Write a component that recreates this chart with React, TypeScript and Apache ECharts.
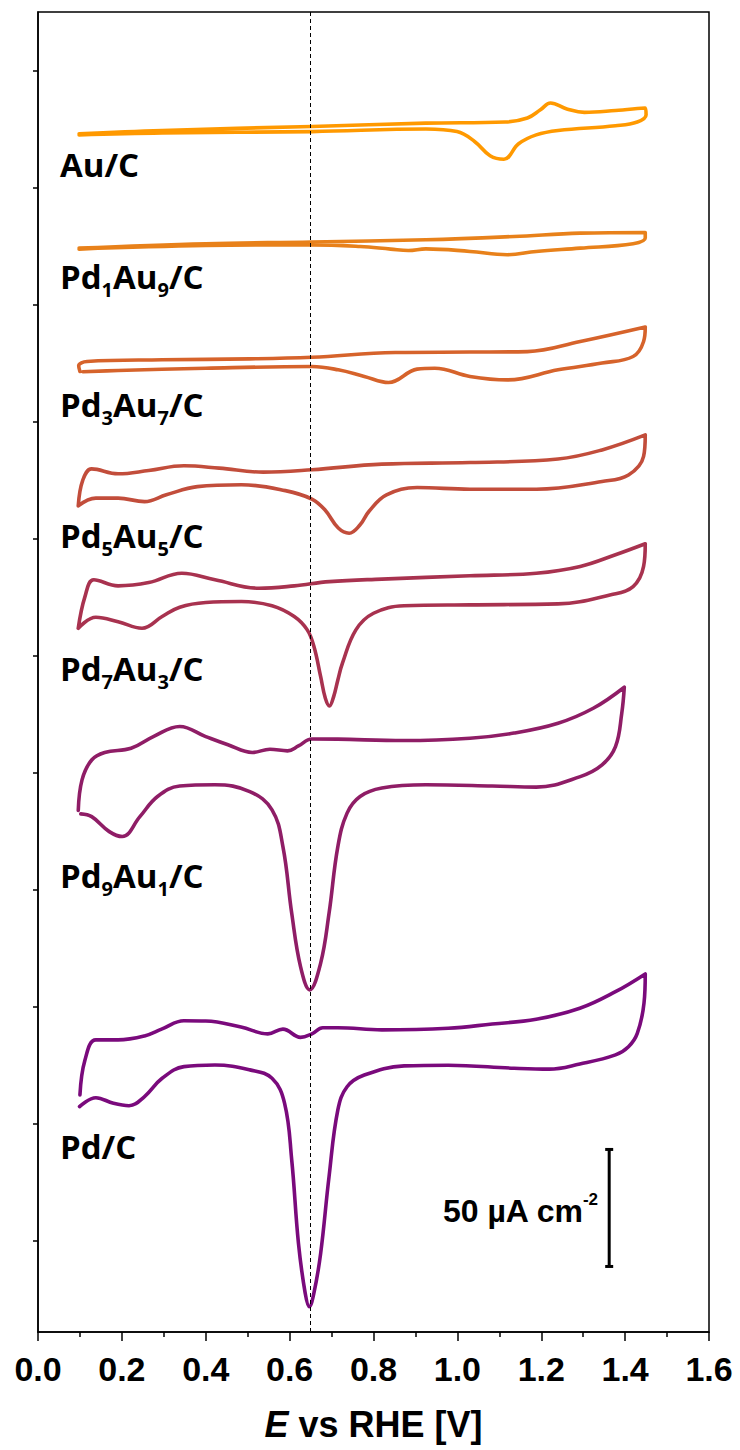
import React, { useEffect, useRef } from "react";
import * as echarts from "echarts";

// Potential (V vs RHE) and offset current density (µA cm^-2, stacked with vertical offsets)
const pdC: [number, number][] = [
  [0.100, 101.3], [0.112, 116.2], [0.138, 124.8], [0.191, 124.8], [0.254, 126.5], [0.296, 129.5],
  [0.348, 133.0], [0.400, 132.9], [0.484, 130.3], [0.548, 127.4], [0.584, 129.4], [0.626, 125.9],
  [0.653, 127.4], [0.679, 130.0], [0.715, 130.0], [0.820, 129.1], [0.978, 129.8], [1.083, 131.6],
  [1.188, 133.6], [1.292, 138.3], [1.377, 145.4], [1.448, 153.0],
  [1.445, 140.5], [1.429, 127.6], [1.408, 121.9], [1.377, 118.4], [1.292, 114.5], [1.219, 112.3],
  [1.135, 112.7], [0.978, 114.0], [0.873, 113.7], [0.778, 109.8], [0.737, 104.8], [0.715, 94.9],
  [0.694, 66.4], [0.674, 33.6], [0.658, 16.7], [0.647, 10.8], [0.637, 16.7], [0.621, 38.0],
  [0.605, 73.5], [0.588, 97.7], [0.558, 108.4], [0.505, 112.0], [0.422, 114.1], [0.348, 113.4],
  [0.296, 108.4], [0.254, 100.6], [0.217, 96.7], [0.180, 97.7], [0.138, 100.1], [0.099, 96.3],
];

const pd9Au1: [number, number][] = [
  [0.096, 222.8], [0.105, 235.9], [0.128, 244.4], [0.159, 247.6], [0.222, 249.4], [0.275, 254.4],
  [0.338, 258.7], [0.400, 254.4], [0.453, 250.9], [0.511, 247.6], [0.553, 249.0], [0.595, 248.3],
  [0.621, 250.4], [0.653, 253.4], [0.715, 253.3], [0.873, 252.7], [1.030, 253.7], [1.135, 255.9],
  [1.240, 260.1], [1.324, 266.5], [1.398, 275.5],
  [1.392, 264.4], [1.377, 250.1], [1.345, 242.3], [1.293, 237.3], [1.188, 232.8], [1.083, 233.3],
  [0.925, 233.8], [0.820, 232.4], [0.768, 228.8], [0.737, 221.7], [0.715, 207.4], [0.694, 178.9],
  [0.674, 157.6], [0.648, 146.2], [0.626, 156.1], [0.605, 178.9], [0.584, 207.4], [0.558, 223.1],
  [0.505, 230.9], [0.422, 233.8], [0.338, 233.3], [0.285, 228.8], [0.243, 220.2], [0.201, 211.7],
  [0.170, 213.8], [0.128, 220.2], [0.102, 221.4],
];

const pd7Au3: [number, number][] = [
  [0.096, 300.7], [0.112, 314.2], [0.133, 321.4], [0.191, 318.8], [0.264, 320.2], [0.343, 324.2],
  [0.422, 321.4], [0.527, 317.8], [0.611, 318.8], [0.695, 320.6], [0.820, 321.7], [1.030, 323.1],
  [1.188, 324.2], [1.293, 327.1], [1.377, 332.1], [1.448, 336.8],
  [1.444, 327.1], [1.419, 318.5], [1.366, 315.0], [1.240, 311.1], [1.030, 310.7], [0.873, 310.3],
  [0.800, 307.1], [0.758, 300.0], [0.726, 285.8], [0.715, 278.6], [0.705, 271.5], [0.695, 267.5],
  [0.685, 270.9], [0.674, 280.0], [0.658, 292.9], [0.642, 300.0], [0.611, 305.7], [0.558, 310.3],
  [0.485, 312.1], [0.400, 311.7], [0.338, 309.7], [0.296, 305.7], [0.248, 300.7], [0.191, 303.5],
  [0.138, 305.4], [0.096, 300.7],
];

const pd5Au5: [number, number][] = [
  [0.096, 353.0], [0.107, 364.1], [0.128, 368.8], [0.191, 366.7], [0.264, 368.1], [0.348, 370.1],
  [0.432, 369.1], [0.537, 367.4], [0.653, 368.4], [0.820, 370.8], [1.030, 371.5], [1.240, 373.0],
  [1.345, 376.9], [1.448, 383.3],
  [1.444, 374.1], [1.408, 366.2], [1.345, 363.4], [1.188, 360.1], [1.030, 360.1], [0.904, 360.8],
  [0.831, 357.7], [0.789, 350.6], [0.768, 344.9], [0.742, 341.3], [0.716, 343.5], [0.684, 351.3],
  [0.653, 355.9], [0.590, 359.5], [0.485, 362.0], [0.380, 361.2], [0.306, 357.7], [0.254, 354.8],
  [0.191, 356.3], [0.138, 356.3], [0.096, 353.0],
];

const pd3Au7: [number, number][] = [
  [0.100, 410.4], [0.097, 412.8], [0.117, 414.7], [0.296, 415.4], [0.505, 415.8], [0.653, 416.5],
  [0.852, 418.5], [1.030, 418.7], [1.167, 418.9], [1.293, 423.2], [1.448, 429.4],
  [1.444, 423.2], [1.419, 416.8], [1.345, 414.0], [1.240, 411.1], [1.119, 406.8], [1.030, 408.3],
  [0.946, 411.8], [0.904, 411.4], [0.836, 405.7], [0.778, 408.3], [0.716, 411.1], [0.653, 412.5],
  [0.400, 411.8], [0.191, 410.8], [0.107, 410.3],
];

const pd1Au9: [number, number][] = [
  [0.098, 463.1], [0.400, 465.0], [0.653, 465.7], [0.925, 466.7], [1.135, 468.1], [1.293, 469.5],
  [1.448, 469.8],
  [1.448, 467.4], [1.419, 465.0], [1.293, 463.1], [1.188, 461.7], [1.119, 460.3], [1.030, 461.7],
  [0.925, 462.8], [0.883, 462.1], [0.841, 462.7], [0.768, 463.8], [0.653, 464.5], [0.400, 464.2],
  [0.098, 462.7],
];

const auC: [number, number][] = [
  [0.098, 512.0], [0.296, 513.4], [0.653, 515.1], [0.925, 516.5], [1.114, 517.0], [1.167, 518.7],
  [1.198, 522.2], [1.222, 525.1], [1.261, 522.6], [1.303, 521.1], [1.377, 521.9], [1.448, 523.0],
  [1.450, 520.1], [1.429, 517.0], [1.377, 515.4], [1.240, 513.4], [1.188, 511.5], [1.146, 507.7],
  [1.111, 501.1], [1.078, 502.6], [1.041, 508.7], [0.999, 512.9], [0.925, 514.0], [0.653, 512.9],
  [0.296, 512.3], [0.098, 511.5],
];

const curveData = [auC, pd1Au9, pd3Au7, pd5Au5, pd7Au3, pd9Au1, pdC];
const curveNames = ["Au/C", "Pd1Au9/C", "Pd3Au7/C", "Pd5Au5/C", "Pd7Au3/C", "Pd9Au1/C", "Pd/C"];
const curveColors = ["#FF9900", "#E8811A", "#D6632B", "#C24D3B", "#A8324F", "#8F1D66", "#7A0A7C"];
// label rich strings (s = subscripts)
const curveLabels = [
  "{b|Au/C}",
  "{b|Pd}{s|1}{b|Au}{s|9}{b|/C}",
  "{b|Pd}{s|3}{b|Au}{s|7}{b|/C}",
  "{b|Pd}{s|5}{b|Au}{s|5}{b|/C}",
  "{b|Pd}{s|7}{b|Au}{s|3}{b|/C}",
  "{b|Pd}{s|9}{b|Au}{s|1}{b|/C}",
  "{b|Pd/C}",
];
const labelTops = [141, 253.5, 381, 512, 645, 852.5, 1123.5];

const yTickValues = [39, 89, 139, 189, 239, 289, 339, 389, 439, 489, 539];
const xMin = 0, xMax = 1.6, xInterval = 0.2;
const yMin = 0, yMax = 564;
const dashedLineX = 0.645;
const scaleBar: [number, number][] = [[1.362, 28], [1.362, 78]];

const AX_FONT = "'Liberation Sans', Arial, Helvetica, sans-serif";
const LB_FONT = "'Open Sans', 'Noto Sans', sans-serif";

export default function App() {
  const ref = useRef<HTMLDivElement>(null);
  useEffect(() => {
    document.body.style.margin = "0";
    const chart = echarts.init(ref.current!, null, { renderer: "svg" });
    const series: any[] = curveData.map((d, i) => ({
      type: "line",
      name: curveNames[i],
      data: d,
      symbol: "none",
      showSymbol: false,
      smooth: 0.4,
      z: 3,
      lineStyle: { color: curveColors[i], width: 3.6, cap: "round", join: "round" },
    }));
    series.push({
      type: "line",
      name: "scale",
      data: scaleBar,
      symbol: "rect",
      symbolSize: [8, 3],
      showSymbol: true,
      z: 4,
      itemStyle: { color: "#000" },
      lineStyle: { color: "#000", width: 3 },
    });
    series.push({
      type: "line",
      name: "ref",
      data: [],
      z: 1,
      markLine: {
        silent: true,
        symbol: ["none", "none"],
        label: { show: false },
        lineStyle: { color: "#000", width: 1, type: [4, 3] },
        data: [{ xAxis: dashedLineX }],
      },
    });

    const graphic: any[] = curveLabels.map((t, i) => ({
      type: "text",
      x: 60,
      y: labelTops[i],
      z: 10,
      style: {
        text: t,
        fill: "#000",
        verticalAlign: "top",
        align: "left",
        rich: {
          b: { fontSize: 33, fontWeight: "bold", fontFamily: LB_FONT, lineHeight: 46, fill: "#000" },
          s: { fontSize: 20, fontWeight: "bold", fontFamily: LB_FONT, lineHeight: 20, verticalAlign: "bottom", fill: "#000" },
        },
      },
    }));
    graphic.push({
      type: "text",
      x: 598,
      y: 1191,
      z: 10,
      style: {
        text: "{m|50 µA cm}{p|-2}",
        fill: "#000",
        align: "right",
        verticalAlign: "top",
        rich: {
          m: { fontSize: 32, fontWeight: "bold", fontFamily: AX_FONT, lineHeight: 40, fill: "#000" },
          p: { fontSize: 17, fontWeight: "bold", fontFamily: AX_FONT, lineHeight: 18, verticalAlign: "top", fill: "#000" },
        },
      },
    });

    chart.setOption({
      animation: false,
      backgroundColor: "#fff",
      grid: {
        left: 38,
        right: 31,
        top: 12,
        bottom: 118,
        containLabel: false,
        outerBoundsMode: "none",
        show: true,
        borderColor: "#000",
        borderWidth: 1.5,
        backgroundColor: "transparent",
      },
      xAxis: {
        type: "value",
        min: xMin,
        max: xMax,
        interval: xInterval,
        name: "{i|E}{n| vs RHE [V]}",
        nameLocation: "middle",
        nameGap: 74,
        nameTextStyle: {
          rich: {
            i: { fontSize: 36, fontWeight: "bold", fontStyle: "italic", fontFamily: AX_FONT, color: "#000", lineHeight: 36 },
            n: { fontSize: 36, fontWeight: "bold", fontFamily: AX_FONT, color: "#000", lineHeight: 36 },
          },
        },
        axisLine: { show: true, onZero: false, lineStyle: { color: "#000", width: 1.5 } },
        axisTick: { show: true, inside: false, length: 9, lineStyle: { color: "#000", width: 1.5 } },
        minorTick: { show: true, splitNumber: 2, length: 5, lineStyle: { color: "#000", width: 1.5 } },
        splitLine: { show: false },
        minorSplitLine: { show: false },
        axisLabel: {
          show: true,
          margin: 20,
          showMinLabel: true,
          showMaxLabel: true,
          fontSize: 34,
          fontWeight: "bold",
          fontFamily: AX_FONT,
          color: "#000",
          formatter: (v: number) => v.toFixed(1),
        },
      },
      yAxis: {
        type: "value",
        min: yMin,
        max: yMax,
        axisLine: { show: true, onZero: false, lineStyle: { color: "#000", width: 1.5 } },
        axisTick: {
          show: true,
          inside: false,
          length: 5,
          customValues: yTickValues,
          lineStyle: { color: "#000", width: 1.5 },
        },
        axisLabel: { show: false },
        splitLine: { show: false },
      },
      series,
      graphic,
    });
    return () => chart.dispose();
  }, []);
  return <div ref={ref} style={{ width: 740, height: 1450 }} />;
}
